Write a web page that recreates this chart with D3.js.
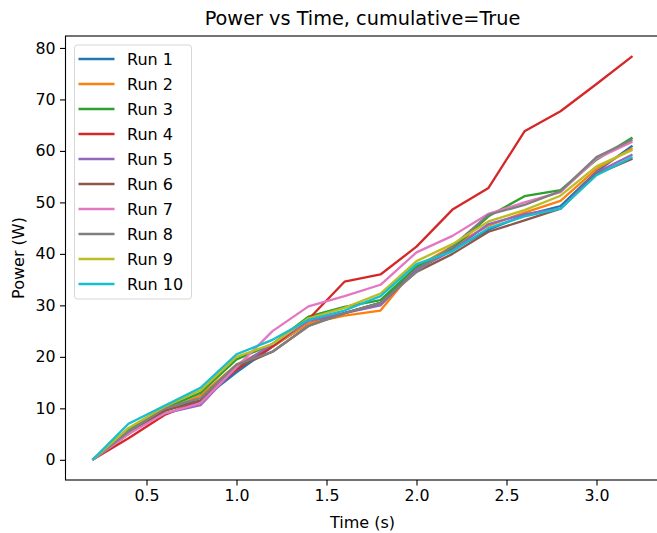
<!DOCTYPE html>
<html lang="en">
<head>
<meta charset="UTF-8">
<title>Power vs Time</title>
<script src="https://d3js.org/d3.v7.min.js"></script>
<style>
  body { margin: 0; background: #fff; font-family: "DejaVu Sans", sans-serif; }
  svg { display: block; }
  .axis text { font-size: 15.8px; font-family: "DejaVu Sans", sans-serif; fill: #000; }
  .axis path { display: none; }
  .axis line { stroke: #000; stroke-width: 1.1; }
</style>
</head>
<body>
<div id="chart"></div>
<script>
// time points (s)
const times = [0.2, 0.4, 0.6, 0.8, 1.0, 1.2, 1.4, 1.6, 1.8, 2.0, 2.2, 2.4, 2.6, 2.8, 3.0, 3.2];

const runNames = ["Run 1", "Run 2", "Run 3", "Run 4", "Run 5", "Run 6", "Run 7", "Run 8", "Run 9", "Run 10"];
const runColors = ["#1f77b4", "#ff7f0e", "#2ca02c", "#d62728", "#9467bd", "#8c564b", "#e377c2", "#7f7f7f", "#bcbd22", "#17becf"];

// cumulative power per run (W)
const run1  = [0, 6.0, 10.0, 11.5, 17.0, 22.0, 26.5, 28.5, 30.5, 37.0, 40.7, 44.7, 47.5, 49.3, 56.0, 61.0];
const run2  = [0, 5.5, 9.5, 12.5, 18.5, 22.0, 26.5, 28.0, 29.0, 37.5, 41.5, 45.5, 48.0, 50.3, 56.5, 60.5];
const run3  = [0, 6.0, 10.0, 13.0, 19.5, 22.5, 27.8, 29.7, 31.0, 37.5, 41.0, 47.3, 51.2, 52.4, 58.3, 62.6];
const run4  = [0, 4.2, 8.7, 11.5, 17.5, 22.0, 27.3, 34.6, 36.0, 41.4, 48.6, 52.8, 63.8, 67.7, 73.0, 78.4];
const run5  = [0, 5.5, 9.0, 10.6, 18.0, 22.5, 27.0, 28.5, 30.0, 37.0, 40.7, 45.8, 47.7, 48.8, 55.8, 59.3];
const run6  = [0, 5.0, 9.5, 11.5, 18.0, 21.0, 26.0, 28.5, 30.5, 36.5, 40.0, 44.3, 46.5, 48.8, 55.5, 58.5];
const run7  = [0, 5.0, 9.0, 11.0, 18.0, 25.0, 29.8, 31.8, 34.0, 40.3, 43.5, 47.8, 50.0, 52.0, 58.5, 61.8];
const run8  = [0, 5.5, 10.0, 12.0, 18.5, 21.0, 26.0, 28.5, 30.5, 36.5, 41.5, 47.6, 49.5, 52.2, 58.8, 62.2];
const run9  = [0, 6.2, 10.3, 13.5, 20.0, 22.5, 27.5, 29.5, 32.3, 38.6, 41.9, 46.3, 48.5, 51.3, 57.0, 60.2];
const run10 = [0, 7.0, 10.5, 14.0, 20.5, 23.3, 27.2, 29.0, 31.8, 38.0, 40.5, 45.0, 47.3, 48.8, 55.3, 58.8];

const runValues = [run1, run2, run3, run4, run5, run6, run7, run8, run9, run10];

const xTicks = [0.5, 1.0, 1.5, 2.0, 2.5, 3.0];
const yTicks = [0, 10, 20, 30, 40, 50, 60, 70, 80];

const W = 657, H = 533;
const plot = { left: 65.5, right: 659.5, top: 36, bottom: 480 };

const svg = d3.select('#chart').append('svg')
    .attr('width', W)
    .attr('height', H);

// matplotlib-like 5% margins
const xMin = d3.min(times), xMax = d3.max(times);
const xPad = (xMax - xMin) * 0.05;
const yMax = d3.max(runValues, r => d3.max(r));
const yPad = yMax * 0.05;

const x = d3.scaleLinear()
    .domain([xMin - xPad, xMax + xPad])
    .range([plot.left, plot.right]);

const y = d3.scaleLinear()
    .domain([-yPad, yMax + yPad])
    .range([plot.bottom, plot.top]);

// lines
const line = d3.line()
    .x((d, i) => x(times[i]))
    .y(d => y(d));

svg.append('g')
    .selectAll('path')
    .data(runValues)
    .enter()
    .append('path')
    .attr('d', d => line(d))
    .attr('fill', 'none')
    .attr('stroke', (d, i) => runColors[i])
    .attr('stroke-width', 2.3)
    .attr('stroke-linejoin', 'round');

// axes
svg.append('g')
    .attr('class', 'axis')
    .attr('transform', `translate(0,${plot.bottom})`)
    .call(d3.axisBottom(x).tickValues(xTicks).tickFormat(d3.format('.1f')).tickSize(5.5).tickPadding(4.5));

svg.append('g')
    .attr('class', 'axis')
    .attr('transform', `translate(${plot.left},0)`)
    .call(d3.axisLeft(y).tickValues(yTicks).tickFormat(d3.format('d')).tickSize(5.5).tickPadding(4.5));

// frame
svg.append('rect')
    .attr('x', plot.left)
    .attr('y', plot.top)
    .attr('width', plot.right - plot.left)
    .attr('height', plot.bottom - plot.top)
    .attr('fill', 'none')
    .attr('stroke', '#000')
    .attr('stroke-width', 1.1);

// title and labels
svg.append('text')
    .attr('x', (plot.left + plot.right) / 2)
    .attr('y', 25)
    .attr('text-anchor', 'middle')
    .style('font-size', '19.3px')
    .text('Power vs Time, cumulative=True');

svg.append('text')
    .attr('x', (plot.left + plot.right) / 2)
    .attr('y', 528)
    .attr('text-anchor', 'middle')
    .style('font-size', '16px')
    .text('Time (s)');

svg.append('text')
    .attr('transform', `translate(24,${(plot.top + plot.bottom) / 2}) rotate(-90)`)
    .attr('text-anchor', 'middle')
    .style('font-size', '16px')
    .text('Power (W)');

// legend
const legend = svg.append('g');
legend.append('rect')
    .attr('x', 74.5)
    .attr('y', 45)
    .attr('width', 117)
    .attr('height', 254)
    .attr('rx', 3)
    .attr('fill', '#fff')
    .attr('fill-opacity', 0.8)
    .attr('stroke', '#d6d6d6')
    .attr('stroke-width', 1);

const items = legend.selectAll('.legend-item')
    .data(runNames)
    .enter()
    .append('g')
    .attr('class', 'legend-item')
    .attr('transform', (d, i) => `translate(0,${59 + i * 25})`);

items.append('line')
    .attr('x1', 78.5)
    .attr('x2', 114.5)
    .attr('stroke', (d, i) => runColors[i])
    .attr('stroke-width', 2.3);

items.append('text')
    .attr('x', 127)
    .attr('y', 6)
    .style('font-size', '16px')
    .text(d => d);
</script>
</body>
</html>
